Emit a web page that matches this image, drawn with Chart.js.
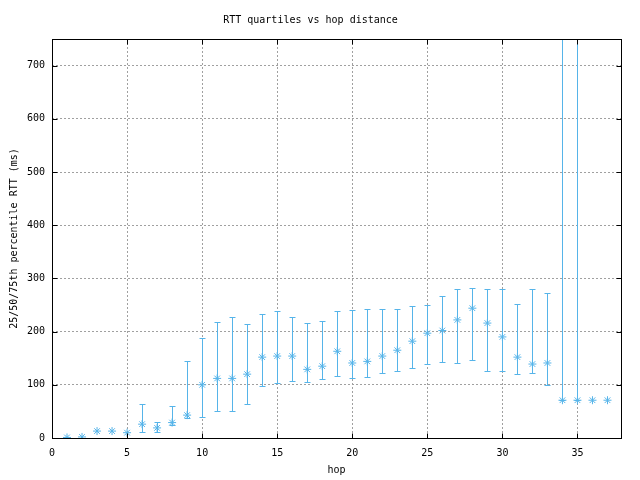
<!DOCTYPE html>
<html>
<head>
<meta charset="utf-8">
<script src="https://cdn.jsdelivr.net/npm/chart.js@4"></script>
<style>
  html, body { margin: 0; padding: 0; background: #fff; }
  #wrap { width: 640px; height: 480px; }
</style>
</head>
<body>
<div id="wrap"><canvas id="rtt"></canvas></div>
<script>
// hop distance and RTT quartiles (ms)
const hops = [1, 2, 3, 4, 5, 6, 7, 8, 9, 10, 11, 12, 13, 14, 15, 16, 17, 18, 19, 20,
              21, 22, 23, 24, 25, 26, 27, 28, 29, 30, 31, 32, 33, 34, 35, 36, 37];
const median = [1, 2, 13, 13, 10, 26, 19, 29, 43, 100, 112, 112, 120, 152, 154, 154, 129, 135, 163, 141,
                144, 154, 165, 182, 197, 202, 222, 244, 216, 190, 152, 139, 141, 71, 71, 71, 71];
const q25 = [1, 2, 13, 13, 10, 11, 11, 25, 37, 39, 51, 51, 64, 98, 103, 107, 105, 111, 116, 112,
             114, 122, 126, 131, 139, 143, 141, 146, 126, 126, 120, 122, 99, 71, 71, 71, 71];
const q75 = [1, 2, 13, 13, 10, 64, 31, 60, 144, 188, 218, 228, 214, 233, 239, 227, 216, 220, 239, 240,
             242, 242, 242, 248, 250, 267, 280, 282, 280, 280, 252, 280, 273, 1400, 1400, 71, 71];
const xTicks = [0, 5, 10, 15, 20, 25, 30, 35];
const yTicks = [0, 100, 200, 300, 400, 500, 600, 700];

const blue = '#56b4e9';
const mono = { family: '"DejaVu Sans Mono", monospace', size: 10 };

// quartile bars, drawn through the chart scales
const errorBars = {
    id: 'errorBars',
    beforeDatasetsDraw(chart) {
        const { ctx, chartArea: a, scales: { x, y } } = chart;
        ctx.save();
        ctx.beginPath();
        ctx.rect(a.left, a.top, a.right - a.left, a.bottom - a.top);
        ctx.clip();
        ctx.strokeStyle = blue;
        ctx.lineWidth = 1;
        hops.forEach((h, i) => {
            if (q25[i] === q75[i]) return;
            const px = Math.round(x.getPixelForValue(h)) + 0.5;
            const top = Math.round(y.getPixelForValue(q75[i])) + 0.5;
            const bot = Math.round(y.getPixelForValue(q25[i])) + 0.5;
            ctx.beginPath();
            ctx.moveTo(px, top);
            ctx.lineTo(px, bot);
            ctx.moveTo(px - 3, top);
            ctx.lineTo(px + 3, top);
            ctx.moveTo(px - 3, bot);
            ctx.lineTo(px + 3, bot);
            ctx.stroke();
        });
        ctx.restore();
    }
};

// gnuplot style frame with inward ticks on all sides
const frame = {
    id: 'frame',
    afterDraw(chart) {
        const { ctx, chartArea: a, scales: { x, y } } = chart;
        ctx.save();
        ctx.strokeStyle = '#000';
        ctx.lineWidth = 1;
        const l = Math.round(a.left) + 0.5, r = Math.round(a.right) + 0.5;
        const t = Math.round(a.top) + 0.5, b = Math.round(a.bottom) + 0.5;
        ctx.beginPath();
        xTicks.forEach(v => {
            const px = Math.round(x.getPixelForValue(v)) + 0.5;
            ctx.moveTo(px, b); ctx.lineTo(px, b - 5);
            ctx.moveTo(px, t); ctx.lineTo(px, t + 5);
        });
        yTicks.forEach(v => {
            const py = Math.round(y.getPixelForValue(v)) + 0.5;
            ctx.moveTo(l, py); ctx.lineTo(l + 5, py);
            ctx.moveTo(r, py); ctx.lineTo(r - 5, py);
        });
        ctx.stroke();
        ctx.strokeRect(l, t, r - l, b - t);
        ctx.restore();
    }
};

new Chart(document.getElementById('rtt'), {
    type: 'scatter',
    data: {
        datasets: [{
            label: 'median',
            data: hops.map((h, i) => ({ x: h, y: median[i] })),
            pointStyle: 'star',
            pointRadius: 4,
            pointHoverRadius: 4,
            borderWidth: 1,
            borderColor: blue,
            backgroundColor: blue,
            showLine: false
        }]
    },
    options: {
        responsive: true,
        maintainAspectRatio: false,
        animation: false,
        events: [],
        layout: { padding: { left: 0, right: 19, top: 0, bottom: 0 } },
        plugins: {
            legend: { display: false },
            tooltip: { enabled: false },
            title: {
                display: true,
                text: 'RTT quartiles vs hop distance',
                color: '#000',
                font: { ...mono, weight: 'normal' },
                padding: { top: 14, bottom: 13 }
            }
        },
        scales: {
            x: {
                type: 'linear',
                min: 0,
                max: 37.9,
                afterBuildTicks(s) { s.ticks = xTicks.map(v => ({ value: v })); },
                afterFit(s) { s.height = 42; },
                ticks: { color: '#000', font: mono, padding: 9, maxRotation: 0 },
                grid: { color: '#a0a0a0', drawTicks: false },
                border: { display: false, dash: [2, 2] },
                title: {
                    display: true,
                    text: 'hop',
                    color: '#000',
                    font: mono,
                    padding: { top: 0, bottom: 4 }
                }
            },
            y: {
                type: 'linear',
                min: 0,
                max: 750,
                afterBuildTicks(s) { s.ticks = yTicks.map(v => ({ value: v })); },
                afterFit(s) { s.width = 52; },
                ticks: { color: '#000', font: mono, padding: 7 },
                grid: { color: '#a0a0a0', drawTicks: false },
                border: { display: false, dash: [2, 2] },
                title: {
                    display: true,
                    text: '25/50/75th percentile RTT (ms)',
                    color: '#000',
                    font: mono,
                    padding: { top: 8, bottom: 0 }
                }
            }
        }
    },
    plugins: [errorBars, frame]
});
</script>
</body>
</html>
